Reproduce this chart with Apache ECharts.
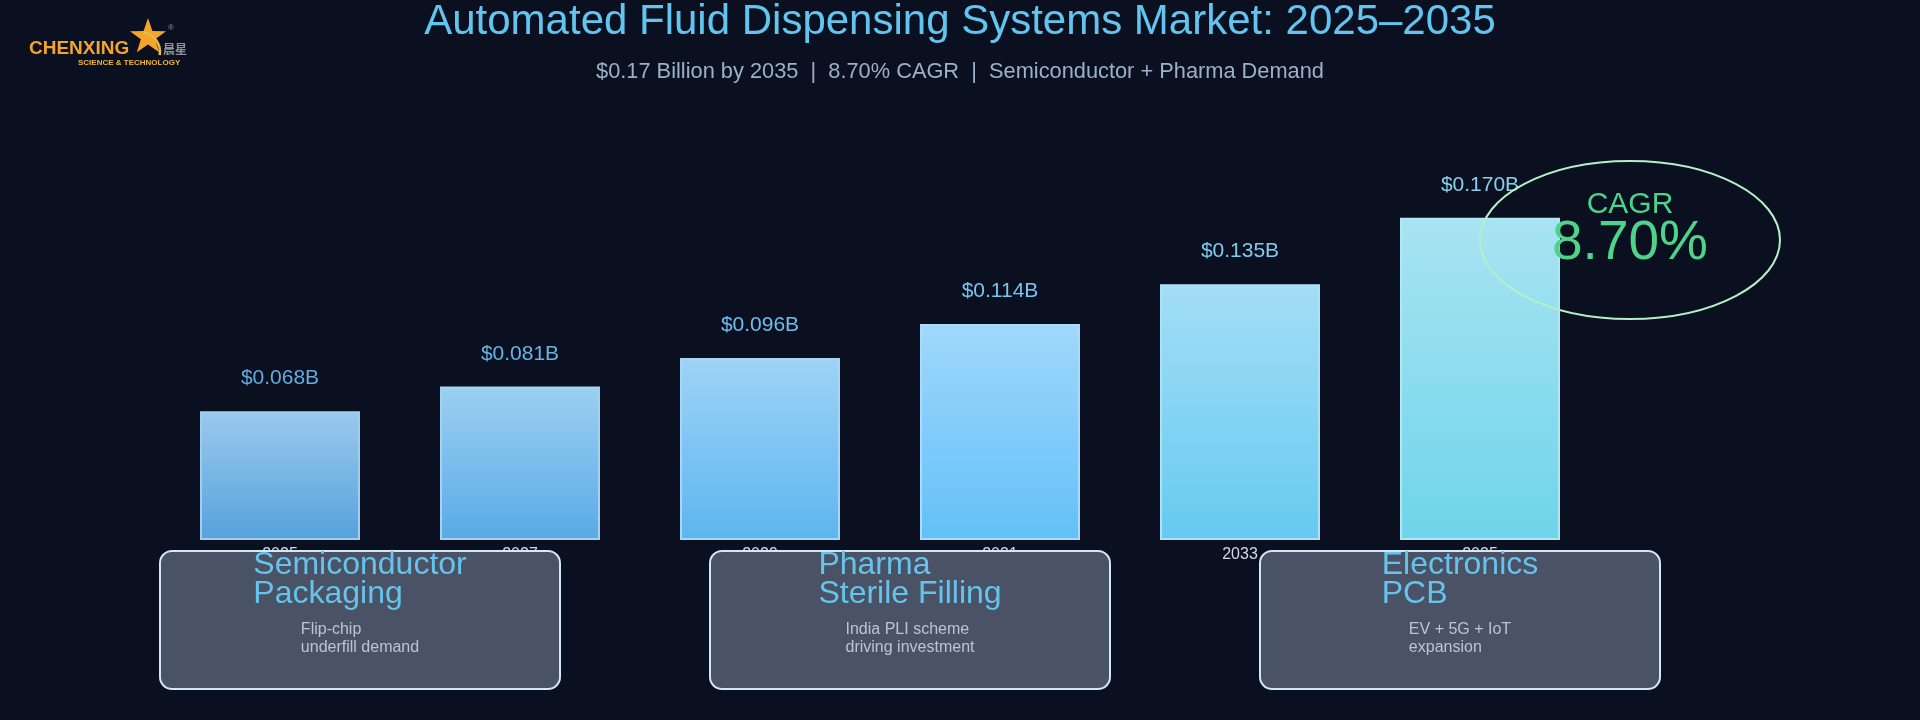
<!DOCTYPE html>
<html>
<head>
<meta charset="utf-8">
<style>
html,body{margin:0;padding:0;background:#0a1020;}
#chart{width:1920px;height:720px;}
</style>
<script src="https://cdn.jsdelivr.net/npm/echarts@6/dist/echarts.min.js"></script>
</head>
<body>
<div id="chart"></div>
<script>
const years = ['2025', '2027', '2029', '2031', '2033', '2035'];
const values = [0.068, 0.081, 0.096, 0.114, 0.135, 0.170];
const barTopColors = ['#9ac9ed', '#9ccff2', '#9ed3f6', '#a0d8fb', '#a3def6', '#a8e4f2'];
const barBottomColors = ['#55a2dc', '#59aae6', '#5db5ef', '#62c0f8', '#66caf0', '#6fd4ea'];
const barBorderColors = ['#a3cdee', '#a6d2f2', '#a8d6f6', '#aadbfa', '#ade2f6', '#b2e8f3'];
const labelColors = ['#62abde', '#68b3e4', '#70bcea', '#78c4ee', '#7fcaee', '#88d0ea'];
const segTitles = ['Semiconductor\nPackaging', 'Pharma\nSterile Filling', 'Electronics\nPCB'];
const segBodies = ['Flip-chip\nunderfill demand', 'India PLI scheme\ndriving investment', 'EV + 5G + IoT\nexpansion'];
const titleText = 'Automated Fluid Dispensing Systems Market: 2025\u20132035';
const subtitleText = '$0.17 Billion by 2035  |  8.70% CAGR  |  Semiconductor + Pharma Demand';
const cagrLabel = 'CAGR';
const cagrValue = '8.70%';

const FONT = '"Liberation Sans", Arial, Helvetica, sans-serif';
const ctx = document.createElement('canvas').getContext('2d');
function blockWidth(text, size) {
  ctx.font = size + 'px "Liberation Sans", Arial, sans-serif';
  return Math.max.apply(null, text.split('\n').map(function (l) { return ctx.measureText(l).width; }));
}

const chart = echarts.init(document.getElementById('chart'), null, {renderer: 'canvas'});

const graphics = [];
// title + subtitle
graphics.push({type: 'text', z: 60, x: 960, y: 22, style: {text: titleText, fill: '#62c5f0', font: '42px ' + FONT, textAlign: 'center', textVerticalAlign: 'middle'}});
graphics.push({type: 'text', z: 60, x: 960, y: 72, style: {text: subtitleText, fill: '#9cb0c9', font: '21.8px ' + FONT, textAlign: 'center', textVerticalAlign: 'middle'}});

// logo
(function () {
  const cx = 148, cy = 37, R = 19, r = 7.5, pts = [];
  for (let i = 0; i < 10; i++) {
    const a = -Math.PI / 2 + i * Math.PI / 5;
    const rr = i % 2 === 0 ? R : r;
    pts.push([cx + rr * Math.cos(a), cy + rr * Math.sin(a)]);
  }
  graphics.push({type: 'polygon', z: 60, shape: {points: pts}, style: {fill: '#f3a52a'}});
  graphics.push({type: 'arc', z: 60, shape: {cx: 140, cy: 52, r: 20, startAngle: -Math.PI * 0.45, endAngle: Math.PI * 0.05}, style: {stroke: '#e8b84a', lineWidth: 2.5, fill: null}});
  graphics.push({type: 'text', z: 60, x: 29, y: 49, style: {text: 'CHENXING', fill: '#f3a52a', font: 'bold 19px ' + FONT, textAlign: 'left', textVerticalAlign: 'middle'}});
  graphics.push({type: 'text', z: 60, x: 78, y: 63, style: {text: 'SCIENCE & TECHNOLOGY', fill: '#f0b53a', font: 'bold 8px ' + FONT, textAlign: 'left', textVerticalAlign: 'middle'}});
  graphics.push({type: 'text', z: 60, x: 163, y: 49, style: {text: '晨星', fill: '#8c909a', font: 'bold 12px "Noto Sans CJK SC", sans-serif', textAlign: 'left', textVerticalAlign: 'middle'}});
  graphics.push({type: 'text', z: 60, x: 171, y: 28, style: {text: '\u00ae', fill: '#8c909a', font: '8px ' + FONT, textAlign: 'center', textVerticalAlign: 'middle'}});
})();

// segment boxes
for (let i = 0; i < segTitles.length; i++) {
  const bx = 160 + i * 550, bw = 400, by = 551, bh = 138, cx = bx + bw / 2;
  graphics.push({type: 'rect', z: 50, shape: {x: bx, y: by, width: bw, height: bh, r: 12}, style: {fill: '#4a5265', stroke: '#d2e7f8', lineWidth: 2}});
  const tw = blockWidth(segTitles[i], 32);
  graphics.push({type: 'text', z: 55, x: cx - tw / 2, y: 550, style: {text: segTitles[i], fill: '#66c3ec', font: '32px ' + FONT, lineHeight: 29.5, textAlign: 'left', textVerticalAlign: 'top'}});
  const bwid = blockWidth(segBodies[i], 16);
  graphics.push({type: 'text', z: 55, x: cx - bwid / 2, y: 621, style: {text: segBodies[i], fill: '#b9c5d5', font: '16px ' + FONT, lineHeight: 17.5, textAlign: 'left', textVerticalAlign: 'top'}});
}

// CAGR ellipse
graphics.push({type: 'ellipse', z: 60, shape: {cx: 1630, cy: 240, rx: 150, ry: 79}, style: {fill: null, stroke: '#b6efc6', lineWidth: 2}});
graphics.push({type: 'text', z: 61, x: 1630, y: 205, style: {text: cagrLabel, fill: '#4fd38b', font: '30px ' + FONT, textAlign: 'center', textVerticalAlign: 'middle'}});
graphics.push({type: 'text', z: 61, x: 1630, y: 244, style: {text: cagrValue, fill: '#4fd38b', font: '55px ' + FONT, textAlign: 'center', textVerticalAlign: 'middle'}});

const barData = values.map(function (v, i) {
  return {
    value: v,
    itemStyle: {
      color: new echarts.graphic.LinearGradient(0, 0, 0, 1, [
        {offset: 0, color: barTopColors[i]},
        {offset: 1, color: barBottomColors[i]}
      ]),
      borderColor: barBorderColors[i],
      borderWidth: 2
    },
    label: {color: labelColors[i]}
  };
});

chart.setOption({
  backgroundColor: '#0a1020',
  animation: false,
  textStyle: {fontFamily: FONT},
  grid: {left: 160, right: 320, top: 161, bottom: 180, containLabel: false},
  xAxis: {
    type: 'category',
    data: years,
    axisLine: {show: false},
    axisTick: {show: false},
    splitLine: {show: false},
    axisLabel: {color: '#d3d9e2', fontSize: 16, margin: 7, fontFamily: FONT}
  },
  yAxis: {
    type: 'value',
    min: 0,
    max: 0.2,
    show: false,
    splitLine: {show: false}
  },
  series: [{
    type: 'bar',
    data: barData,
    barWidth: 160,
    z: 2,
    label: {
      show: true,
      position: 'top',
      distance: 22,
      fontSize: 21,
      fontFamily: FONT,
      formatter: function (p) { return '$' + p.value.toFixed(3) + 'B'; }
    }
  }],
  graphic: {elements: graphics}
});
</script>
</body>
</html>
